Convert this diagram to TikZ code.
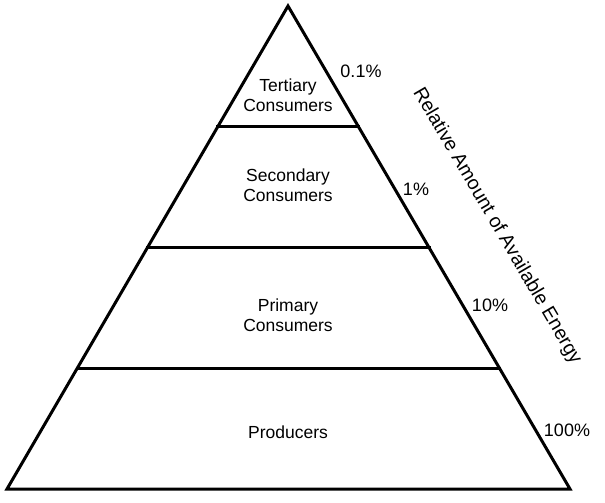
\documentclass[tikz,border=0pt]{standalone}
\usepackage{fontspec}
\setmainfont{Liberation Sans}
\usetikzlibrary{calc}
\tikzset{
  side/.style={line width=3pt, line join=miter, line cap=rect},
  lvl/.style={font=\fontsize{17.5}{20.5}\selectfont, align=center, inner sep=0pt},
  pct/.style={font=\fontsize{18}{20}\selectfont, inner sep=0pt},
  axislbl/.style={font=\fontsize{19.5}{22}\selectfont, rotate=-59.7, inner sep=0pt},
}

\begin{document}
\begin{tikzpicture}[x=1pt, y=-1pt]
\useasboundingbox (0,0) rectangle (605,503);
\coordinate (top) at (288,6);
\coordinate (bl) at (7,489);
\coordinate (br) at (570,489);
\coordinate (l1) at ($(top)!0.25!(bl)$);
\coordinate (r1) at ($(top)!0.25!(br)$);
\coordinate (l2) at ($(top)!0.5!(bl)$);
\coordinate (r2) at ($(top)!0.5!(br)$);
\coordinate (l3) at ($(top)!0.75!(bl)$);
\coordinate (r3) at ($(top)!0.75!(br)$);
\draw[side] (bl) -- (top) -- (br) -- cycle;
\draw[side] (l1) -- (r1);
\draw[side] (l2) -- (r2);
\draw[side] (l3) -- (r3);
% trophic levels
\node[lvl] (ter) at (288,95) {Tertiary\\Consumers};
\node[lvl] (sec) at (288,185) {Secondary\\Consumers};
\node[lvl] (pri) at (288,315) {Primary\\Consumers};
\node[lvl] (pro) at (288,432) {Producers};
% energy values
\node[pct] (p01) at (361,71) {0.1\%};
\node[pct] (p1) at (416,189) {1\%};
\node[pct] (p10) at (490,305) {10\%};
\node[pct] (p100) at (567,430) {100\%};
\node[axislbl] (energy) at (497,226) {Relative Amount of Available Energy};
\end{tikzpicture}
\end{document}
